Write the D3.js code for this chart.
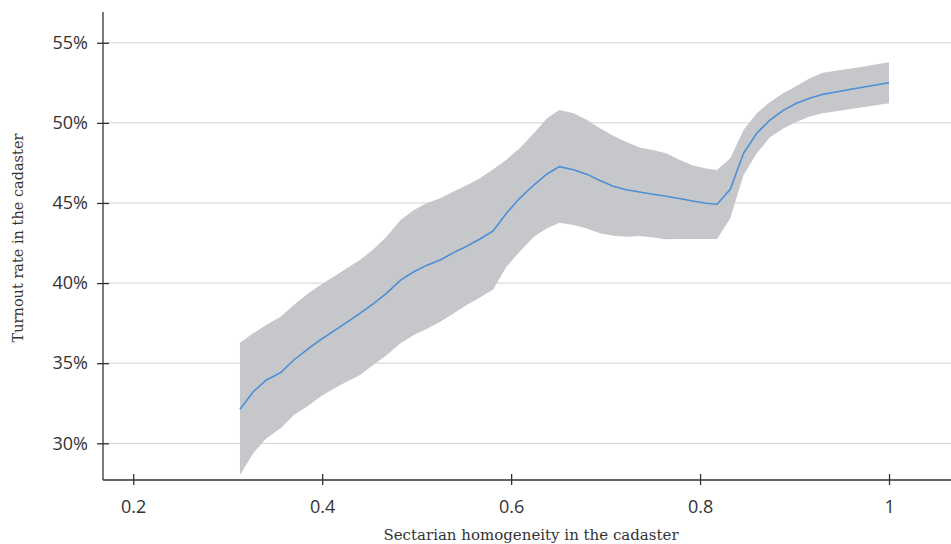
<!DOCTYPE html>
<meta charset="utf-8">
<head>
	<title>Turnout vs sectarian homogeneity</title>
	<script type="text/javascript" src="https://cdn.jsdelivr.net/npm/d3@7"></script>
	<style>
		body { margin: 0; background: #fff; }

		.grid line {
			stroke: #d2d2d2;
			stroke-width: 1;
		}

		.axis path, .axis line {
			stroke: #333;
			stroke-width: 1.3;
		}

		.axis text {
			font-family: "Open Sans", sans-serif;
			font-size: 18px;
			fill: #333;
		}

		.axis-title {
			font-family: "DejaVu Serif", serif;
			font-size: 15px;
			fill: #333;
		}
	</style>
</head>

<body>
	<div id="chart"></div>

	<script>
		// homogeneity values (x) and the fitted turnout with its confidence band, in %
		var homogeneity = [0.313, 0.327, 0.341, 0.356, 0.370, 0.384, 0.398, 0.412, 0.426, 0.440,
			0.454, 0.468, 0.483, 0.497, 0.511, 0.525, 0.539, 0.553, 0.567, 0.581,
			0.595, 0.609, 0.624, 0.638, 0.651, 0.666, 0.680, 0.694, 0.708, 0.722,
			0.736, 0.750, 0.764, 0.778, 0.792, 0.806, 0.818, 0.832, 0.846, 0.860,
			0.874, 0.888, 0.902, 0.916, 0.930, 0.944, 0.958, 0.972, 0.986, 1.000];
		var turnout = [32.12, 33.22, 33.95, 34.41, 35.2, 35.85, 36.45, 37.0, 37.55, 38.11,
			38.7, 39.36, 40.19, 40.71, 41.12, 41.44, 41.9, 42.3, 42.75, 43.25,
			44.36, 45.29, 46.12, 46.81, 47.27, 47.08, 46.8, 46.4, 46.05, 45.82,
			45.68, 45.55, 45.42, 45.28, 45.12, 44.98, 44.92, 45.85, 48.1, 49.35,
			50.18, 50.78, 51.22, 51.54, 51.78, 51.93, 52.08, 52.22, 52.36, 52.5];
		var upper = [36.28, 36.87, 37.4, 37.9, 38.63, 39.3, 39.88, 40.4, 40.92, 41.44,
			42.1, 42.9, 43.94, 44.56, 45.0, 45.29, 45.71, 46.1, 46.54, 47.1,
			47.7, 48.41, 49.35, 50.29, 50.81, 50.6, 50.2, 49.66, 49.2, 48.8,
			48.47, 48.3, 48.1, 47.7, 47.35, 47.15, 47.06, 47.79, 49.55, 50.6,
			51.3, 51.85, 52.3, 52.78, 53.13, 53.25, 53.38, 53.5, 53.64, 53.78];
		var lower = [28.02, 29.38, 30.31, 30.94, 31.77, 32.3, 32.9, 33.4, 33.85, 34.26,
			34.89, 35.5, 36.24, 36.76, 37.15, 37.59, 38.1, 38.63, 39.1, 39.6,
			41.02, 41.96, 42.9, 43.42, 43.77, 43.63, 43.4, 43.11, 42.95, 42.9,
			42.94, 42.85, 42.73, 42.75, 42.75, 42.75, 42.75, 44.04, 46.75, 48.1,
			49.1, 49.65, 50.05, 50.39, 50.6, 50.72, 50.85, 50.98, 51.1, 51.22];

		var xTicks = [0.2, 0.4, 0.6, 0.8, 1];
		var yTicks = [30, 35, 40, 45, 50, 55];

		var width = 951;
		var height = 544;
		var mLeft = 103, mRight = 951, mTop = 12, mBottom = 480;

		var svg = d3.select("#chart").append("svg")
			.attr("width", width)
			.attr("height", height);

		var x = d3.scaleLinear().domain([0.168, 1.0656]).range([mLeft, mRight]);
		var y = d3.scaleLinear().domain([27.71, 56.92]).range([mBottom, mTop]);

		var rows = homogeneity.map(function (h, i) {
			return { x: h, mid: turnout[i], lo: lower[i], hi: upper[i] };
		});

		// gridlines
		svg.append("g")
			.attr("class", "grid")
			.selectAll("line")
			.data(yTicks)
			.enter()
			.append("line")
			.attr("x1", mLeft)
			.attr("x2", mRight)
			.attr("y1", function (d) { return y(d); })
			.attr("y2", function (d) { return y(d); });

		// confidence band
		var area = d3.area()
			.x(function (d) { return x(d.x); })
			.y0(function (d) { return y(d.lo); })
			.y1(function (d) { return y(d.hi); });

		svg.append("path")
			.datum(rows)
			.attr("d", area)
			.attr("fill", "#c6c7ca");

		// fitted line
		var line = d3.line()
			.x(function (d) { return x(d.x); })
			.y(function (d) { return y(d.mid); });

		svg.append("path")
			.datum(rows)
			.attr("d", line)
			.attr("fill", "none")
			.attr("stroke", "#4a8fd6")
			.attr("stroke-width", 1.6);

		// axes
		var yAxis = svg.append("g")
			.attr("class", "axis")
			.attr("transform", "translate(" + mLeft + ",0)")
			.call(d3.axisLeft(y).tickValues(yTicks).tickSize(6).tickPadding(9)
				.tickFormat(function (d) { return d + "%"; }));
		yAxis.select(".domain").remove();
		yAxis.selectAll(".tick line").attr("x1", 6).attr("x2", -6);
		yAxis.append("line")
			.attr("x1", 0).attr("x2", 0)
			.attr("y1", mTop).attr("y2", mBottom)
			.attr("stroke", "#333");

		var xAxis = svg.append("g")
			.attr("class", "axis")
			.attr("transform", "translate(0," + mBottom + ")")
			.call(d3.axisBottom(x).tickValues(xTicks).tickSize(5).tickPadding(15)
				.tickFormat(function (d) { return d3.format("")(d); }));
		xAxis.select(".domain").remove();
		xAxis.selectAll(".tick line").attr("y1", -6).attr("y2", 5);
		xAxis.append("line")
			.attr("x1", mLeft).attr("x2", mRight)
			.attr("y1", 0).attr("y2", 0)
			.attr("stroke", "#333");

		// axis titles
		svg.append("text")
			.attr("class", "axis-title")
			.attr("x", 531)
			.attr("y", 540)
			.attr("text-anchor", "middle")
			.text("Sectarian homogeneity in the cadaster");

		svg.append("text")
			.attr("class", "axis-title")
			.attr("transform", "translate(23,238) rotate(-90)")
			.attr("text-anchor", "middle")
			.style("font-size", "14.5px")
			.text("Turnout rate in the cadaster");
	</script>
</body>
</html>
